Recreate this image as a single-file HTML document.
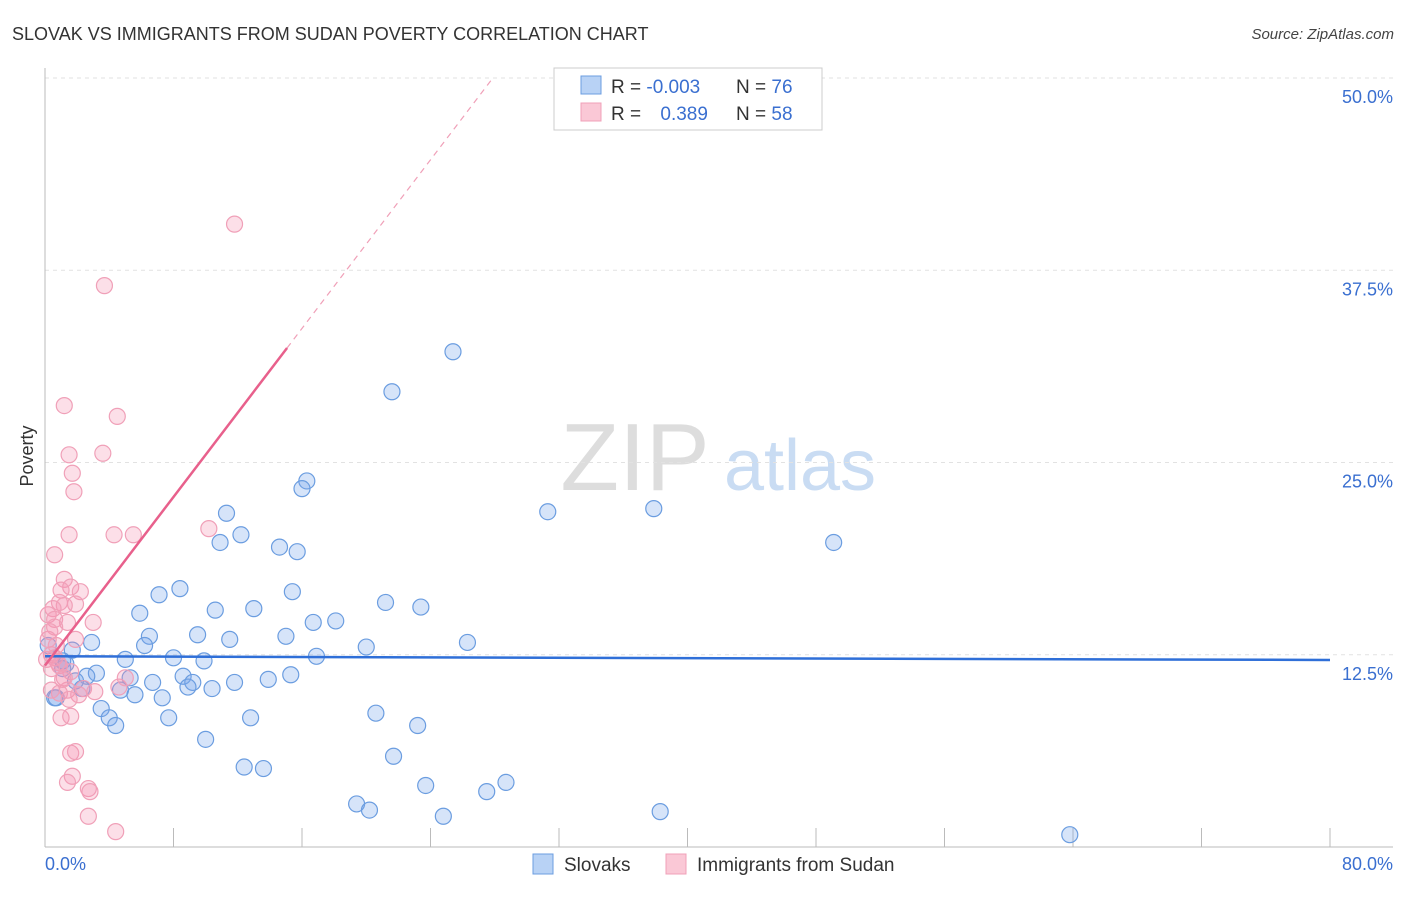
<!DOCTYPE html>
<html><head><meta charset="utf-8"><style>
body{margin:0;background:#fff;font-family:"Liberation Sans",sans-serif;}
svg text{font-family:"Liberation Sans",sans-serif;}
</style></head><body>
<svg id="chart" width="1406" height="892" xmlns="http://www.w3.org/2000/svg">
<text x="12" y="40" font-size="18" fill="#333">SLOVAK VS IMMIGRANTS FROM SUDAN POVERTY CORRELATION CHART</text>
<text x="1394" y="39" font-size="15" fill="#444" text-anchor="end" font-style="italic">Source: ZipAtlas.com</text>
<g>
<text x="635" y="490" font-size="96" fill="#ddd" text-anchor="middle" font-family="Liberation Serif, serif">ZIP</text>
<text x="800" y="490" font-size="72" fill="#c9dcf3" text-anchor="middle">atlas</text>
</g>
<g id="grid"></g>
<g id="axes"></g>
<g id="marks"></g>
<text transform="translate(33,456) rotate(-90)" font-size="18" fill="#333" text-anchor="middle">Poverty</text>
<g>
<rect x="554" y="68" width="268" height="62" fill="#fff" stroke="#ccc"/>
<rect x="581" y="76" width="20" height="18" fill="#b8d2f5" stroke="#6b9de0"/>
<rect x="581" y="103" width="20" height="18" fill="#fac8d6" stroke="#f0a0b8"/>
<text x="611" y="93" font-size="19" fill="#333">R = <tspan fill="#3a6fd0">-0.003</tspan></text>
<text x="736" y="93" font-size="19" fill="#333">N = <tspan fill="#3a6fd0">76</tspan></text>
<text x="611" y="120" font-size="19" fill="#333">R = <tspan fill="#3a6fd0" dx="14">0.389</tspan></text>
<text x="736" y="120" font-size="19" fill="#333">N = <tspan fill="#3a6fd0">58</tspan></text>
</g>
<g>
<rect x="533" y="854" width="20" height="20" fill="#b8d2f5" stroke="#6b9de0"/>
<text x="564" y="871" font-size="19" fill="#333">Slovaks</text>
<rect x="666" y="854" width="20" height="20" fill="#fac8d6" stroke="#f0a0b8"/>
<text x="697" y="871" font-size="19" fill="#333">Immigrants from Sudan</text>
</g>
</svg>
<script>
const xTicks=[0,8,16,24,32,40,48,56,64,72,80];
const yTicks=[12.5,25,37.5,50];
const yTickLabels=["12.5%","25.0%","37.5%","50.0%"];
const xEndLabels=["0.0%","80.0%"];
const slovakX=[25.4,21.6,16.3,16.0,31.3,37.9,11.3,12.2,10.9,49.1,14.6,15.7,8.4,7.1,15.4,21.2,23.4,10.6,13.0,5.9,16.7,18.1,6.5,9.5,15.0,11.5,2.9,6.2,26.3,20.0,1.7,8.0,16.9,5.0,9.9,1.1,3.2,2.6,8.6,15.3,13.9,5.3,1.9,6.7,9.2,8.9,11.8,10.4,2.3,4.7,5.6,7.3,0.6,20.6,3.5,4.0,4.4,7.7,12.8,23.2,10.0,21.7,12.4,13.6,23.7,28.7,27.5,19.4,20.2,24.8,38.3,63.8,1.1,0.7,0.2,1.3];
const slovakY=[32.2,29.6,23.8,23.3,21.8,22.0,21.7,20.3,19.8,19.8,19.5,19.2,16.8,16.4,16.6,15.9,15.6,15.4,15.5,15.2,14.6,14.7,13.7,13.8,13.7,13.5,13.3,13.1,13.3,13.0,12.8,12.3,12.4,12.2,12.1,12.1,11.3,11.1,11.1,11.2,10.9,11.0,10.8,10.7,10.7,10.4,10.7,10.3,10.3,10.2,9.9,9.7,9.7,8.7,9.0,8.4,7.9,8.4,8.4,7.9,7.0,5.9,5.2,5.1,4.0,4.2,3.6,2.8,2.4,2.0,2.3,0.8,11.6,9.7,13.1,11.9];
const sudanX=[11.8,3.7,1.2,4.5,1.5,3.6,1.7,1.8,1.5,4.3,5.5,10.2,0.6,1.2,1.6,1.0,2.2,0.9,1.9,1.2,0.5,0.2,0.6,1.4,3.0,0.6,1.9,0.2,0.4,0.6,0.8,0.9,1.6,0.4,1.2,1.4,2.4,3.1,4.6,0.9,2.1,1.5,5.0,1.0,1.6,1.6,1.9,1.7,1.4,2.7,2.8,2.7,4.4,0.4,0.1,0.7,0.3,1.1];
const sudanY=[40.5,36.5,28.7,28.0,25.5,25.6,24.3,23.1,20.3,20.3,20.3,20.7,19.0,17.4,16.9,16.7,16.6,15.9,15.8,15.7,15.5,15.1,14.8,14.6,14.6,14.3,13.5,13.5,12.5,12.3,12.0,11.8,11.4,11.6,11.0,10.2,10.3,10.1,10.4,10.0,9.9,9.6,11.0,8.4,8.5,6.1,6.2,4.6,4.2,3.8,3.6,2.0,1.0,10.2,12.2,13.1,14.0,10.9];
const slovakTrend=[-0.003,12.4];   // [slope, intercept]
const sudanTrend=[1.37,11.8];
const sudanSolidEnd=15.07;

const NS="http://www.w3.org/2000/svg";
const X=v=>45+v*(1330-45)/80;
const Y=v=>847-v*(847-78)/50;
function mk(tag,attrs,parent){const e=document.createElementNS(NS,tag);for(const k in attrs)e.setAttribute(k,attrs[k]);parent.appendChild(e);return e;}
const grid=document.getElementById('grid'),axes=document.getElementById('axes'),marks=document.getElementById('marks');
yTicks.forEach((t,i)=>{
  const l=mk('line',{x1:45,x2:1393,y1:Y(t),y2:Y(t),stroke:'#e2e2e2','stroke-dasharray':'4,4'},grid);
  
  
  const tx=mk('text',{x:1393,y:Y(t)+25,'font-size':18,fill:'#3a6fd0','text-anchor':'end'},axes);
  tx.textContent=yTickLabels[i];
  
  
});
let a=mk('line',{x1:45,x2:45,y1:68,y2:847,stroke:'#bbb'},axes);


a=mk('line',{x1:45,x2:1393,y1:847,y2:847,stroke:'#bbb'},axes);


xTicks.forEach(t=>{
  const l=mk('line',{x1:X(t),x2:X(t),y1:828,y2:847,stroke:'#bbb'},axes);
  
  
});
let t0=mk('text',{x:45,y:870,'font-size':18,fill:'#3a6fd0'},axes);t0.textContent=xEndLabels[0];


let t1=mk('text',{x:1393,y:870,'font-size':18,fill:'#3a6fd0','text-anchor':'end'},axes);t1.textContent=xEndLabels[1];



slovakX.forEach((v,i)=>{
  const c=mk('circle',{cx:X(v),cy:Y(slovakY[i]),r:8,fill:'rgba(120,165,235,0.3)',stroke:'#6b9de0','stroke-width':1.2},marks);
  
  
});
sudanX.forEach((v,i)=>{
  const c=mk('circle',{cx:X(v),cy:Y(sudanY[i]),r:8,fill:'rgba(245,150,180,0.3)',stroke:'#f0a0b8','stroke-width':1.2},marks);
  
  
});
let bl=mk('line',{x1:X(0),x2:X(80),y1:Y(slovakTrend[1]),y2:Y(slovakTrend[1]+slovakTrend[0]*80),stroke:'#2f6fd8','stroke-width':2.5},marks);


const sEnd=(50-sudanTrend[1])/sudanTrend[0];
let pd=mk('line',{x1:X(sudanSolidEnd),x2:X(sEnd),y1:Y(sudanTrend[1]+sudanTrend[0]*sudanSolidEnd),y2:Y(50),stroke:'#f0a0b8','stroke-width':1.2,'stroke-dasharray':'6,5'},marks);


let ps=mk('line',{x1:X(0),x2:X(sudanSolidEnd),y1:Y(sudanTrend[1]),y2:Y(sudanTrend[1]+sudanTrend[0]*sudanSolidEnd),stroke:'#e8608c','stroke-width':2.5},marks);


</script>
</body></html>
